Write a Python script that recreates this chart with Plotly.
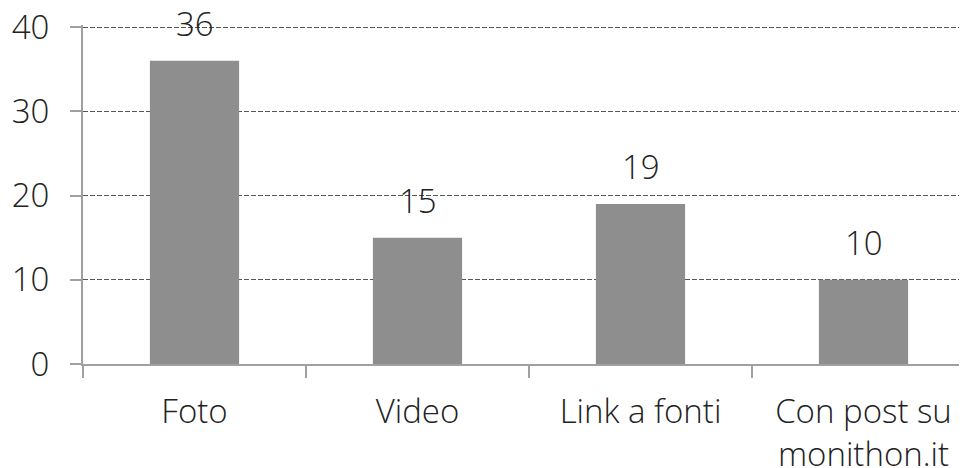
import plotly.graph_objects as go

categories = ["Foto", "Video", "Link a fonti", "Con post su<br>monithon.it"]
values = [36, 15, 19, 10]
y_ticks = [0, 10, 20, 30, 40]

FONT = "Open Sans"
FS = 33
fig = go.Figure()
fig.add_trace(go.Bar(
    x=categories, y=values, marker=dict(color="#8e8e8e", line=dict(width=0)),
    width=0.4, showlegend=False, cliponaxis=False,
))
for c, v in zip(categories, values):
    fig.add_annotation(x=c, y=v, text=str(v), showarrow=False, yanchor="bottom",
                       yshift=13, font=dict(family=FONT, size=FS, color="#222222", weight=300))

# page body has an 8px margin, so the figure is offset by 8px; compensate in margins
fig.update_layout(
    width=967, height=468,
    margin=dict(l=75, r=0, t=17, b=112, autoexpand=False),
    paper_bgcolor="white", plot_bgcolor="white",
    font=dict(family=FONT, size=FS, color="#222222", weight=300),
)
fig.update_xaxes(
    type="category", range=[-0.5, 3.5], tickson="boundaries",
    ticks="outside", ticklen=12, tickcolor="#a0a0a0", tickwidth=2,
    showline=True, linecolor="#a0a0a0", linewidth=2, showgrid=False,
    ticklabelstandoff=17, automargin=False, ticklabeloverflow="allow",
    tickfont=dict(family=FONT, size=FS, color="#222222", weight=300),
)
fig.update_yaxes(
    range=[0, 40.24], tickvals=y_ticks, ticks="outside", ticklen=11,
    tickcolor="#a0a0a0", tickwidth=2, showline=True, linecolor="#a0a0a0", linewidth=2,
    showgrid=True, gridcolor="#555555", griddash="5px,2px", gridwidth=1,
    zeroline=False, ticklabelstandoff=14, automargin=False, ticklabeloverflow="allow",
    tickfont=dict(family=FONT, size=FS, color="#222222", weight=300),
)
fig.write_html("out.html")
